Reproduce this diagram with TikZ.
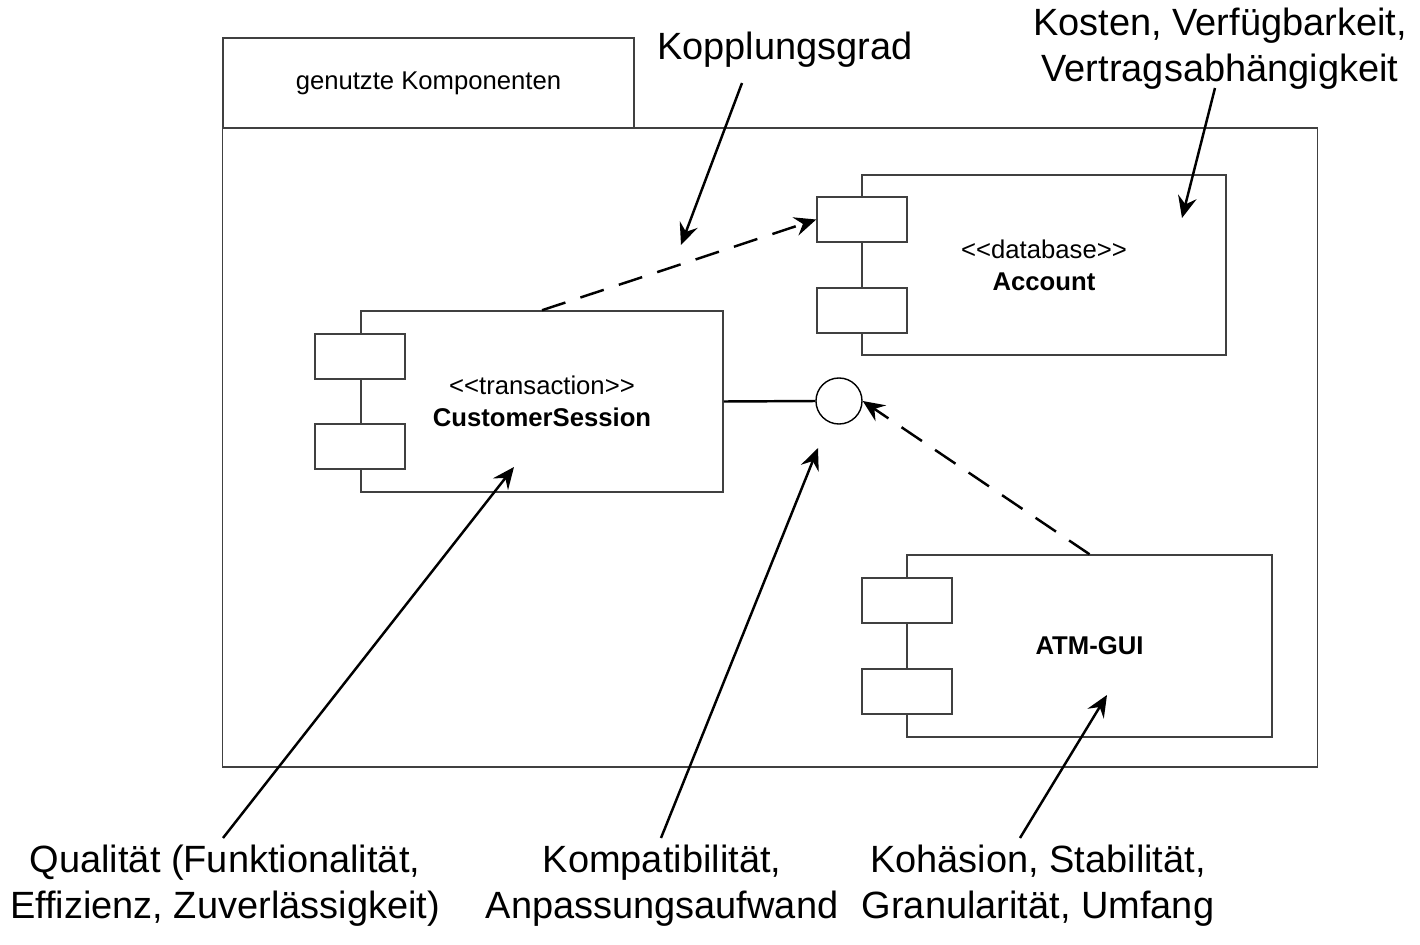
\documentclass[tikz,border=0pt]{standalone}
\usepackage{fontspec}
\setmainfont{Liberation Sans}
\usetikzlibrary{arrows.meta}
\newcommand{\stereotype}[1]{<\kern0pt<#1>\kern0pt>}
\tikzset{
  box/.style={draw=black!75, line width=0.4pt, fill=white, inner sep=0pt},
  port/.style={box, minimum width=0.9cm, minimum height=0.45cm},
  small/.style={font=\fontsize{7.3}{9.1}\selectfont, align=center},
  note/.style={font=\fontsize{10.8}{13.1}\selectfont, align=center, inner sep=0pt},
  hint/.style={line width=0.7pt, -{Stealth[length=6.2pt, width=5.4pt, inset=2.2pt]}},
  dep/.style={hint, dash pattern=on 7pt off 4.5pt}
}
\begin{document}
\begin{tikzpicture}[x=0.01cm, y=-0.01cm]
\useasboundingbox (0,0) rectangle (1420,945);

% package
\node[box, small, minimum width=4.11cm, minimum height=0.9cm] (tab) at (428.5,83) {genutzte Komponenten};
\node[box, minimum width=10.94cm, minimum height=6.39cm] (pkg) at (770,447.5) {};

% components
\node[box, small, minimum width=3.64cm, minimum height=1.8cm] (acc) at (1044,265) {\stereotype{database}\\\textbf{Account}};
\node[port] (accA) at (862,219.5) {};
\node[port] (accB) at (862,310.5) {};

\node[box, small, minimum width=3.62cm, minimum height=1.81cm] (cs) at (542,401.5) {\stereotype{transaction}\\\textbf{CustomerSession}};
\node[port] (csA) at (360,356.5) {};
\node[port] (csB) at (360,446.5) {};

\node[box, small, minimum width=3.65cm, minimum height=1.82cm] (atm) at (1089.5,646) {\textbf{ATM-GUI}};
\node[port] (atmA) at (907,600.5) {};
\node[port] (atmB) at (907,691.5) {};

\node[draw, line width=0.4pt, circle, minimum size=0.46cm, inner sep=0pt] (iface) at (839,401) {};

% annotations
\node[note] (kop) at (785,50) {Kopplungsgrad};
\node[note] (kost) at (1220,49) {Kosten, Verfügbarkeit,\\Vertragsabhängigkeit};
\node[note] (qual) at (225,886) {Qualität (Funktionalität,\\Effizienz, Zuverlässigkeit)};
\node[note] (komp) at (662,886) {Kompatibilität,\\Anpassungsaufwand};
\node[note] (koh) at (1038,886) {Kohäsion, Stabilität,\\Granularität, Umfang};

\coordinate (kopS) at (742,83);
\coordinate (kopE) at (681,245);
\coordinate (kostS) at (1215,88);
\coordinate (kostE) at (1182,218);
\coordinate (qualS) at (223,838);
\coordinate (qualE) at (514,467);
\coordinate (kompS) at (661,838);
\coordinate (kompE) at (818,448);
\coordinate (kohS) at (1020,838);
\coordinate (kohE) at (1107,695);

% connectors
\draw[line width=0.7pt] (cs.east) -- (iface.west);
\draw[dep] (cs.north) -- (accA.west);
\draw[dep] (atm.north) -- (iface.east);

\draw[hint] (kopS) -- (kopE);
\draw[hint] (kostS) -- (kostE);
\draw[hint] (qualS) -- (qualE);
\draw[hint] (kompS) -- (kompE);
\draw[hint] (kohS) -- (kohE);
\end{tikzpicture}
\end{document}
